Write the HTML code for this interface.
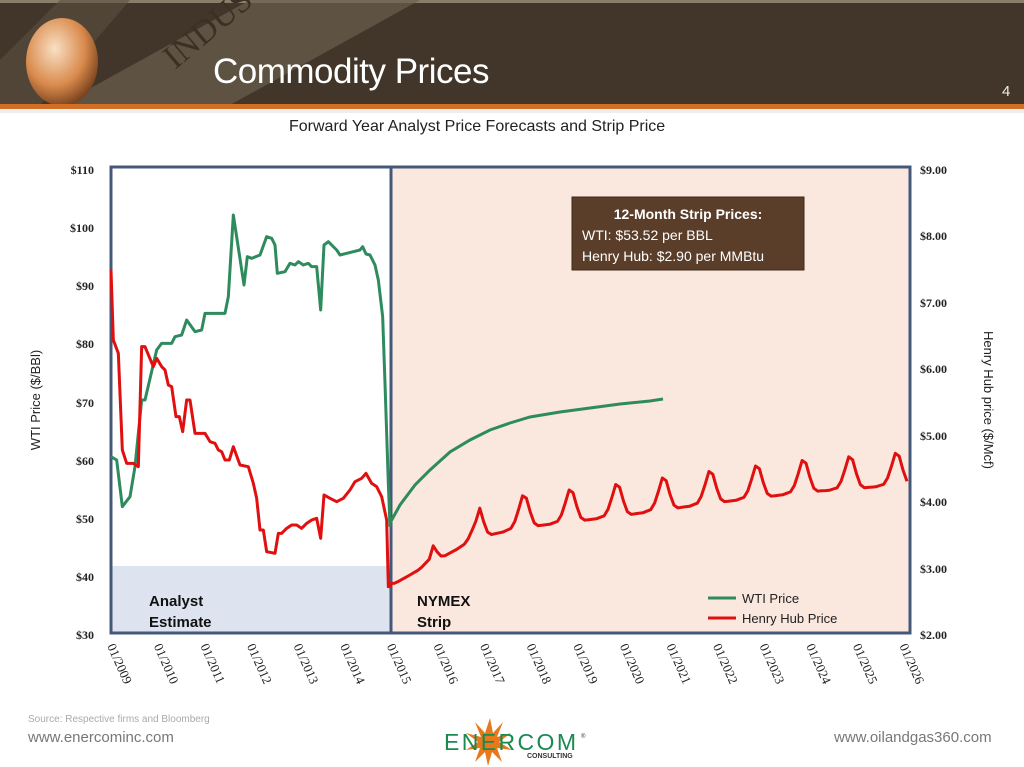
<!DOCTYPE html>
<html><head><meta charset="utf-8"><style>
body{margin:0;width:1024px;height:767px;overflow:hidden;background:#fff;font-family:"Liberation Sans",sans-serif;position:relative}
.a{position:absolute;white-space:nowrap}
</style></head><body>
<div class="a" style="left:0;top:0;width:1024px;height:105px;background:#413629"></div>
<div class="a" style="left:0;top:0;width:1024px;height:3px;background:#8a7d6a"></div>
<svg class="a" style="left:0;top:0" width="420" height="105">
<polygon points="60,105 250,0 420,0 230,105" fill="#6b604f" opacity="0.7"/>
<polygon points="0,60 60,0 130,0 40,105 0,105" fill="#5a5041" opacity="0.6"/>
<text x="175" y="70" fill="#3a3025" font-size="34" font-family="Liberation Serif" transform="rotate(-40 175 70)">INDUSTR</text>
<defs><radialGradient id="g" cx="0.4" cy="0.35" r="0.7"><stop offset="0" stop-color="#f9e0c4"/><stop offset="0.6" stop-color="#d98a4c"/><stop offset="1" stop-color="#6e3a18"/></radialGradient></defs>
<ellipse cx="62" cy="62" rx="36" ry="44" fill="url(#g)"/>
</svg>
<div class="a" style="left:0;top:104px;width:1024px;height:5px;background:#d36f24"></div>
<div class="a" style="left:0;top:109px;width:1024px;height:4px;background:#eee"></div>
<div class="a" style="left:213px;top:52px;font-size:35px;color:#fff;letter-spacing:-0.5px">Commodity Prices</div>
<div class="a" style="left:1002px;top:83px;font-size:15px;color:#eee">4</div>
<div class="a" style="left:289px;top:118px;font-size:16px;color:#222">Forward Year Analyst Price Forecasts and Strip Price</div>

<svg class="a" style="left:0;top:0" width="1024" height="767" id="s">
<rect x="391" y="167" width="519" height="466" fill="#fae7dd"/>
<rect x="111" y="566" width="280" height="67" fill="#dde4f0"/>
<rect x="111" y="167" width="799" height="466" fill="none" stroke="#44587a" stroke-width="3"/>
<line x1="391" y1="167" x2="391" y2="633" stroke="#44587a" stroke-width="3"/>
<g font-family="Liberation Serif" font-size="12" font-weight="bold" fill="#222">
<text x="94" y="174" text-anchor="end">$110</text><text x="94" y="232" text-anchor="end">$100</text>
<text x="94" y="290" text-anchor="end">$90</text><text x="94" y="348" text-anchor="end">$80</text>
<text x="94" y="407" text-anchor="end">$70</text><text x="94" y="465" text-anchor="end">$60</text>
<text x="94" y="523" text-anchor="end">$50</text><text x="94" y="581" text-anchor="end">$40</text>
<text x="94" y="639" text-anchor="end">$30</text>
<text x="920" y="174">$9.00</text><text x="920" y="240">$8.00</text><text x="920" y="307">$7.00</text>
<text x="920" y="373">$6.00</text><text x="920" y="440">$5.00</text><text x="920" y="506">$4.00</text>
<text x="920" y="573">$3.00</text><text x="920" y="639">$2.00</text>
</g>
<text transform="translate(40,400) rotate(-90)" text-anchor="middle" font-size="13" fill="#222">WTI Price ($/BBl)</text>
<text transform="translate(984,400) rotate(90)" text-anchor="middle" font-size="13" fill="#222">Henry Hub price ($/Mcf)</text>
<g id="xl" font-family="Liberation Serif" font-size="13" fill="#222"></g>
<g transform="translate(90,150) scale(0.33333)" fill="none" stroke-width="9" stroke-linejoin="round">
<path stroke="#2e8b5e" d="M63,920 L80,930 97,1070 120,1040 135,950 155,750 165,750 200,600 215,580 245,580 255,560 275,555 290,510 315,545 335,540 345,490 405,490 415,440 430,195 462,405 472,320 485,325 510,315 530,260 545,265 555,285 562,370 585,365 600,340 615,345 625,335 640,345 655,340 665,350 680,350 692,480 702,285 715,275 740,300 750,315 770,310 790,305 810,300 818,290 828,312 840,315 855,345 865,390 878,500 885,700 895,1000 900,1130"/>
<path stroke="#e01010" d="M63,360 L70,570 85,610 97,900 110,940 130,940 145,950 155,590 165,590 190,650 200,625 215,650 225,660 235,705 245,710 258,800 268,800 278,845 290,750 300,750 315,850 345,850 360,875 375,880 385,900 395,905 405,930 418,930 430,890 450,945 475,950 490,1000 500,1045 510,1140 520,1140 530,1205 555,1210 565,1150 575,1150 590,1135 605,1125 620,1125 635,1135 650,1120 665,1110 680,1105 692,1165 702,1035 720,1045 740,1055 760,1045 780,1020 795,995 815,985 828,970 845,1000 860,1010 875,1040 890,1110 895,1310 900,1310"/>
</g>
<path fill="none" stroke="#2e8b5e" stroke-width="3" d="M390,523 L400,505 415,485 430,470 450,452 470,440 490,430 510,423 530,417 560,412 590,408 620,404 650,401 663,399"/>
<path id="hh" fill="none" stroke="#e01010" stroke-width="3" stroke-linejoin="round"/>
<line x1="708" y1="598" x2="736" y2="598" stroke="#2e8b5e" stroke-width="3"/>
<line x1="708" y1="618" x2="736" y2="618" stroke="#e01010" stroke-width="3"/>
<text x="742" y="603" font-size="13" fill="#222">WTI Price</text>
<text x="742" y="623" font-size="13" fill="#222">Henry Hub Price</text>
<g font-size="15" font-weight="bold" fill="#111">
<text x="149" y="606">Analyst</text><text x="149" y="627">Estimate</text>
<text x="417" y="606">NYMEX</text><text x="417" y="627">Strip</text>
</g>
<rect x="572" y="197" width="232" height="73" fill="#5b3e2a" stroke="#3e2a1c"/>
<text x="688" y="219" text-anchor="middle" font-size="14" font-weight="bold" fill="#fff">12-Month Strip Prices:</text>
<text x="582" y="240" font-size="14" fill="#fff">WTI: $53.52 per BBL</text>
<text x="582" y="261" font-size="14" fill="#fff">Henry Hub: $2.90 per MMBtu</text>
<g font-family="Liberation Sans">
<polygon points="490,718 493,733 503,722 497,737 511,733 499,742 512,750 497,748 502,762 492,752 488,766 485,752 475,762 480,748 466,750 478,742 466,733 481,737 475,722 485,733" fill="#e9781c"/>
<text x="444" y="750" font-size="23" fill="#1a8a50" textLength="132">ENERCOM</text>
<text x="581" y="738" font-size="6" fill="#333">®</text>
<text x="527" y="758" font-size="7" font-weight="bold" fill="#333">CONSULTING</text>
</g>
</svg>
<div class="a" style="left:28px;top:714px;font-size:10px;color:#aaa">Source: Respective firms and Bloomberg</div>
<div class="a" style="left:28px;top:729px;font-size:15px;color:#777">www.enercominc.com</div>
<div class="a" style="left:834px;top:729px;font-size:15px;color:#777">www.oilandgas360.com</div>
<script>
var g=document.getElementById('xl'),ns='http://www.w3.org/2000/svg';
for(var k=0;k<18;k++){var x=111+k*46.6,t=document.createElementNS(ns,'text');
t.setAttribute('transform','translate('+(x-4)+',646) rotate(66)');t.textContent='01/'+(2009+k);g.appendChild(t);}
function tr(t){var p=[[2015,588],[2016,562],[2017,537],[2018,527],[2020,516],[2022,503],[2024,492],[2026.3,484]];
for(var i=0;i<p.length-1;i++)if(t<=p[i+1][0]){var f=(t-p[i][0])/(p[i+1][0]-p[i][0]);return p[i][1]+f*(p[i+1][1]-p[i][1]);}return 484;}
var sh=[0.9,0.45,0.1,0,0,0,0,0.03,0.06,0.25,0.6,1];
var d='M391,587';
for(var m=1;m<=135;m++){var t=2015+m/12,mo=m%12;var amp=t<2016?5:(t<2017?18:32);
var y=tr(t)-amp*sh[mo];var x=111+(t-2009)*46.6-4;if(x>908)break;d+=' L'+x.toFixed(1)+','+y.toFixed(1);}
document.getElementById('hh').setAttribute('d',d);
</script>
</body></html>
